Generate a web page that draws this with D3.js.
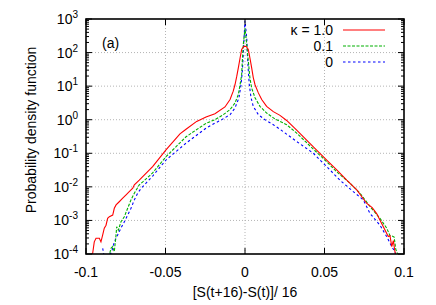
<!DOCTYPE html>
<html>
<head>
<meta charset="utf-8">
<script src="https://cdn.jsdelivr.net/npm/d3@7"></script>
<style>
  body { margin: 0; background: #fff; }
  text { font-family: "Liberation Sans", Arial, sans-serif; fill: #000; }
</style>
</head>
<body>
<div class="chart"></div>
<script>
var w = 436,
  h = 305,
  margin = { left: 86, right: 32, top: 19, bottom: 51 };

// data: returns x and pdf values
var redX = [-0.0975, -0.0958, -0.0948, -0.0937, -0.0916, -0.0906, -0.0895, -0.0885, -0.0874, -0.0864, -0.0853, -0.0832, -0.0822, -0.0811, -0.0791, -0.0769, -0.0748, -0.0728, -0.0706, -0.0696, -0.0665, -0.0581, -0.0497, -0.0409, -0.0371, -0.0304, -0.0245, -0.0189, -0.0126, -0.0094, -0.0074, -0.0063, -0.0052, -0.0042, -0.0031, -0.0021, -0.0010, 0, 0.0010, 0.0021, 0.0031, 0.0042, 0.0052, 0.0063, 0.0084, 0.0105, 0.0136, 0.0178, 0.0220, 0.0262, 0.0325, 0.0430, 0.0514, 0.0577, 0.0640, 0.0703, 0.0766, 0.0800, 0.0828, 0.0850, 0.0870, 0.0901, 0.0912, 0.0923, 0.0933, 0.0943, 0.0952],
  redP = [8.9e-5, 1.05e-4, 2.3e-4, 2.95e-4, 2.95e-4, 2.3e-4, 3.7e-4, 5.9e-4, 7.2e-4, 1.15e-3, 1.29e-3, 1.45e-3, 2.3e-3, 2.9e-3, 3.6e-3, 4.6e-3, 5.8e-3, 7.2e-3, 9.1e-3, 0.0115, 0.0158, 0.040, 0.126, 0.38, 0.52, 0.89, 1.20, 1.51, 2.4, 4.0, 7.1, 11, 19.5, 35, 69, 123, 148, 155, 148, 123, 69, 35, 18, 11, 6.3, 4.0, 2.5, 1.74, 1.35, 0.95, 0.49, 0.155, 0.063, 0.032, 0.0158, 8.1e-3, 3.2e-3, 2.4e-3, 1.6e-3, 1.0e-3, 6.5e-4, 3.3e-4, 3.5e-4, 1.66e-4, 2.5e-4, 1.17e-4, 8e-5];

var greenX = [-0.0858, -0.0853, -0.0843, -0.0832, -0.0822, -0.0811, -0.0807, -0.0797, -0.0780, -0.0759, -0.0738, -0.0717, -0.0696, -0.0665, -0.0643, -0.0581, -0.0497, -0.0371, -0.0245, -0.0189, -0.0137, -0.0094, -0.0063, -0.0042, -0.0031, -0.0021, -0.0017, -0.0011, 0, 0.0011, 0.0021, 0.0031, 0.0042, 0.0063, 0.0094, 0.0136, 0.0189, 0.0262, 0.0325, 0.0430, 0.0492, 0.0577, 0.0660, 0.0723, 0.0786, 0.0849, 0.0891, 0.0912, 0.0928, 0.0938, 0.0948, 0.0964],
  greenP = [8e-5, 9.3e-5, 1.48e-4, 1.66e-4, 1.17e-4, 3.7e-4, 6.5e-4, 5.1e-4, 9.1e-4, 1.29e-3, 2.3e-3, 4.1e-3, 6.5e-3, 0.0115, 0.0141, 0.026, 0.079, 0.31, 0.78, 1.0, 1.41, 2.0, 3.16, 5.6, 11, 22, 55, 170, 525, 170, 55, 17.4, 8.7, 4.5, 2.5, 1.58, 1.05, 0.71, 0.40, 0.132, 0.071, 0.028, 0.0129, 6.5e-3, 2.6e-3, 1.15e-3, 5.9e-4, 3.5e-4, 3.4e-4, 3.2e-4, 1.4e-4, 8.9e-5];

var blueX = [-0.0895, -0.0885, -0.0843, -0.0832, -0.0822, -0.0801, -0.0780, -0.0759, -0.0738, -0.0717, -0.0696, -0.0675, -0.0654, -0.0581, -0.0497, -0.0371, -0.0245, -0.0189, -0.0147, -0.0094, -0.0063, -0.0038, -0.0025, -0.0017, -0.0011, -0.0006, 0, 0.0011, 0.0015, 0.0021, 0.0027, 0.0038, 0.0052, 0.0084, 0.0126, 0.0178, 0.0220, 0.0325, 0.0430, 0.0514, 0.0597, 0.0681, 0.0744, 0.0786, 0.0849, 0.0891, 0.0923, 0.0943, 0.0950],
  blueP = [1.48e-4, 8e-5, 1.05e-4, 1.48e-4, 2.3e-4, 3.7e-4, 5.9e-4, 9.1e-4, 1.45e-3, 2.3e-3, 4.1e-3, 6.5e-3, 8.9e-3, 0.021, 0.063, 0.20, 0.56, 0.79, 1.0, 1.41, 2.24, 4.5, 11, 27.5, 87, 270, 890, 270, 87, 27.5, 11, 4.5, 2.5, 1.41, 1.0, 0.71, 0.52, 0.224, 0.100, 0.040, 0.0158, 7.2e-3, 4.1e-3, 1.62e-3, 7.2e-4, 3.3e-4, 1.66e-4, 1.17e-4, 8e-5];

var xTicks = [-0.1, -0.05, 0, 0.05, 0.1],
  xTickLabels = ['-0.1', '-0.05', '0', '0.05', '0.1'],
  yExps = [-4, -3, -2, -1, 0, 1, 2, 3],
  legendLabels = ['\u03ba = 1.0', '0.1', '0'];

var series = [
  { x: redX, p: redP, color: '#ff0000', dash: null },
  { x: greenX, p: greenP, color: '#00b000', dash: '3,1.5' },
  { x: blueX, p: blueP, color: '#0000ff', dash: '2.5,2.5' }
];

var x = d3.scaleLinear().domain([-0.1, 0.1]).range([margin.left, w - margin.right]);
var y = d3.scaleLog().domain([1e-4, 1e3]).range([h - margin.bottom, margin.top]);

var svg = d3.select('.chart')
  .append('svg')
  .attr('width', w)
  .attr('height', h);

var x0 = x.range()[0], x1 = x.range()[1], y0 = y.range()[0], y1 = y.range()[1];

// grid
svg.append('g').selectAll('line')
  .data(xTicks.slice(1, -1))
  .enter().append('line')
  .attr('x1', function (d) { return x(d); })
  .attr('x2', function (d) { return x(d); })
  .attr('y1', y0).attr('y2', y1)
  .attr('stroke', '#b4b4b4').attr('stroke-width', 1)
  .attr('stroke-dasharray', '1,2');

svg.append('g').selectAll('line')
  .data(yExps.slice(1, -1))
  .enter().append('line')
  .attr('x1', x0).attr('x2', x1)
  .attr('y1', function (d) { return y(Math.pow(10, d)); })
  .attr('y2', function (d) { return y(Math.pow(10, d)); })
  .attr('stroke', '#b4b4b4').attr('stroke-width', 1)
  .attr('stroke-dasharray', '1,2');

// curves
svg.append('clipPath').attr('id', 'clip')
  .append('rect').attr('x', x0).attr('y', y1).attr('width', x1 - x0).attr('height', y0 - y1);

var line = d3.line()
  .x(function (d) { return x(d[0]); })
  .y(function (d) { return y(d[1]); });

var curves = svg.append('g').attr('clip-path', 'url(#clip)');
series.slice().reverse().forEach(function (s) {
  curves.append('path')
    .datum(d3.zip(s.x, s.p))
    .attr('d', line)
    .attr('fill', 'none')
    .attr('stroke', s.color)
    .attr('stroke-width', 1.1)
    .attr('stroke-dasharray', s.dash);
});

// ticks (inside), both sides
var ticks = svg.append('g').attr('stroke', '#000').attr('stroke-width', 1);
yExps.forEach(function (e) {
  var yy = y(Math.pow(10, e));
  ticks.append('line').attr('x1', x0).attr('x2', x0 + 6).attr('y1', yy).attr('y2', yy);
  ticks.append('line').attr('x1', x1).attr('x2', x1 - 6).attr('y1', yy).attr('y2', yy);
  if (e < 3) {
    d3.range(2, 10).forEach(function (m) {
      var ym = y(m * Math.pow(10, e));
      ticks.append('line').attr('x1', x0).attr('x2', x0 + 3).attr('y1', ym).attr('y2', ym);
      ticks.append('line').attr('x1', x1).attr('x2', x1 - 3).attr('y1', ym).attr('y2', ym);
    });
  }
});
xTicks.forEach(function (t) {
  ticks.append('line').attr('x1', x(t)).attr('x2', x(t)).attr('y1', y0).attr('y2', y0 - 6);
  ticks.append('line').attr('x1', x(t)).attr('x2', x(t)).attr('y1', y1).attr('y2', y1 + 6);
});

// frame
svg.append('rect')
  .attr('x', x0).attr('y', y1)
  .attr('width', x1 - x0).attr('height', y0 - y1)
  .attr('fill', 'none').attr('stroke', '#000').attr('stroke-width', 1.6);

// tick labels
svg.append('g').selectAll('text')
  .data(xTicks)
  .enter().append('text')
  .attr('x', function (d) { return x(d); })
  .attr('y', 277)
  .attr('text-anchor', 'middle')
  .attr('font-size', 14)
  .text(function (d, i) { return xTickLabels[i]; });

var yl = svg.append('g').selectAll('text')
  .data(yExps)
  .enter().append('text')
  .attr('x', 78)
  .attr('y', function (d) { return y(Math.pow(10, d)) + 5; })
  .attr('text-anchor', 'end')
  .attr('font-size', 14);
yl.append('tspan').text('10');
yl.append('tspan').attr('dy', -6).attr('font-size', 10).text(function (d) { return d; });

// axis titles
svg.append('text')
  .attr('x', 245).attr('y', 297)
  .attr('text-anchor', 'middle').attr('font-size', 14)
  .text('[S(t+16)-S(t)]/ 16');

svg.append('text')
  .attr('transform', 'translate(36,130) rotate(-90)')
  .attr('text-anchor', 'middle').attr('font-size', 14)
  .text('Probability density function');

svg.append('text')
  .attr('x', 102).attr('y', 48)
  .attr('font-size', 14)
  .text('(a)');

// legend
series.forEach(function (s, i) {
  var ly = 30 + i * 16;
  svg.append('text')
    .attr('x', 333).attr('y', ly + 5)
    .attr('text-anchor', 'end').attr('font-size', 14)
    .text(legendLabels[i]);
  svg.append('line')
    .attr('x1', 343).attr('x2', 385).attr('y1', ly).attr('y2', ly)
    .attr('stroke', s.color).attr('stroke-width', 1.1)
    .attr('stroke-dasharray', s.dash);
});
</script>
</body>
</html>
